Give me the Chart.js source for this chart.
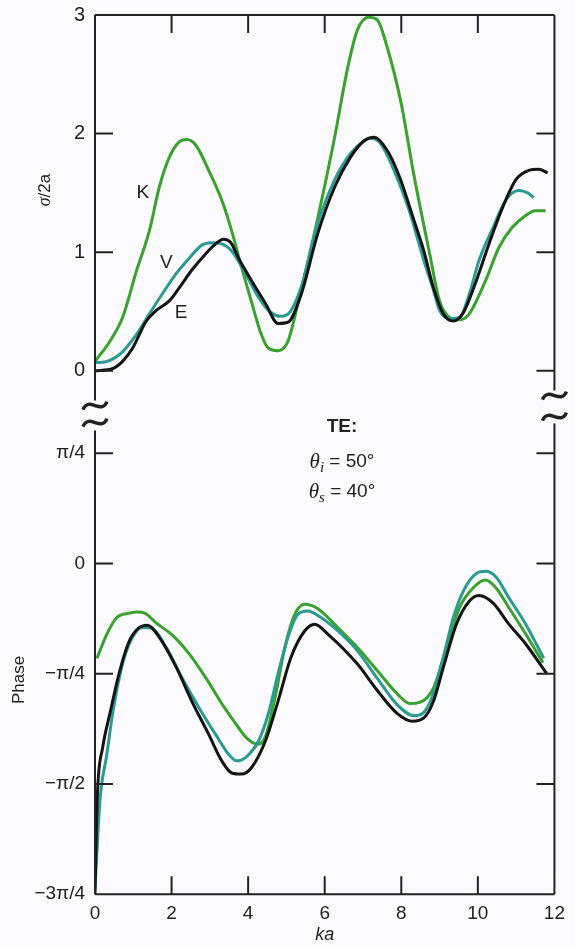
<!DOCTYPE html>
<html>
<head>
<meta charset="utf-8">
<script src="https://cdn.jsdelivr.net/npm/chart.js@4.4.0/dist/chart.umd.min.js"></script>
<style>
  html, body { margin: 0; background: #fbfbfe; }
  #wrap { width: 575px; height: 947px; }
</style>
</head>
<body>
<div id="wrap"><canvas id="scatterChart"></canvas></div>
<script>
// σ/2a vs ka
const kaSigmaK = [0, 0.39, 0.72, 1.09, 1.42, 1.68, 1.94, 2.2, 2.4, 2.64, 2.97, 3.31, 3.57, 3.83, 4.08, 4.34, 4.53, 4.78, 5.04, 5.38, 5.82, 6.26, 6.59, 6.85, 7.15, 7.37, 7.63, 8.0, 8.33, 8.74, 9.0, 9.26, 9.5, 9.75, 10.2, 10.55, 10.9, 11.25, 11.5, 11.77];
const sigmaK = [0.08, 0.25, 0.45, 0.85, 1.18, 1.55, 1.80, 1.93, 1.95, 1.90, 1.69, 1.44, 1.18, 0.87, 0.59, 0.31, 0.19, 0.17, 0.25, 0.68, 1.29, 1.97, 2.54, 2.87, 2.98, 2.96, 2.73, 2.25, 1.65, 0.99, 0.59, 0.45, 0.43, 0.47, 0.76, 1.04, 1.21, 1.31, 1.35, 1.35];
const kaSigmaV = [0, 0.13, 0.65, 1.09, 1.42, 1.76, 2.12, 2.46, 2.79, 3.05, 3.31, 3.57, 3.93, 4.27, 4.6, 4.86, 5.1, 5.38, 5.82, 6.26, 6.67, 7.03, 7.19, 7.45, 7.81, 8.2, 8.59, 8.84, 9.0, 9.26, 9.52, 9.78, 10.03, 10.4, 10.73, 11.07, 11.3, 11.46];
const sigmaV = [0.07, 0.07, 0.14, 0.31, 0.48, 0.65, 0.82, 0.95, 1.06, 1.08, 1.07, 1.01, 0.82, 0.62, 0.49, 0.46, 0.50, 0.70, 1.24, 1.61, 1.83, 1.94, 1.96, 1.92, 1.69, 1.36, 0.93, 0.68, 0.51, 0.44, 0.45, 0.65, 0.93, 1.21, 1.44, 1.52, 1.50, 1.46];
const kaSigmaE = [0, 0.47, 0.72, 0.98, 1.34, 1.6, 1.94, 2.2, 2.53, 2.9, 3.15, 3.35, 3.55, 3.75, 4.09, 4.45, 4.78, 5.04, 5.38, 5.82, 6.26, 6.67, 7.03, 7.29, 7.63, 7.96, 8.3, 8.59, 8.84, 9.1, 9.36, 9.62, 9.96, 10.29, 10.65, 10.99, 11.33, 11.59, 11.82];
const sigmaE = [0.0, 0.02, 0.08, 0.19, 0.42, 0.51, 0.59, 0.70, 0.85, 0.99, 1.07, 1.11, 1.08, 0.95, 0.76, 0.57, 0.40, 0.41, 0.64, 1.16, 1.55, 1.80, 1.94, 1.97, 1.86, 1.63, 1.30, 1.01, 0.70, 0.48, 0.42, 0.49, 0.76, 1.07, 1.38, 1.61, 1.69, 1.70, 1.67];

// phase vs ka, in multiples of π/4
const kaPhaseK = [0.05, 0.31, 0.57, 0.9, 1.1, 1.3, 1.6, 2.02, 2.46, 2.9, 3.31, 3.67, 3.95, 4.25, 4.45, 4.7, 4.96, 5.22, 5.48, 5.82, 6.34, 6.85, 7.37, 7.89, 8.22, 8.48, 8.84, 9.18, 9.52, 9.88, 10.2, 10.47, 10.81, 11.25, 11.7];
const phaseK = [-0.86, -0.64, -0.49, -0.45, -0.44, -0.45, -0.54, -0.65, -0.82, -1.04, -1.27, -1.45, -1.58, -1.64, -1.57, -1.22, -0.76, -0.46, -0.37, -0.41, -0.58, -0.76, -0.97, -1.18, -1.27, -1.26, -1.13, -0.76, -0.40, -0.22, -0.15, -0.22, -0.40, -0.64, -0.90];
const kaPhaseV = [0, 0.13, 0.31, 0.47, 0.72, 0.98, 1.24, 1.5, 1.86, 2.28, 2.72, 3.15, 3.49, 3.7, 3.93, 4.27, 4.53, 4.78, 5.04, 5.3, 5.56, 5.9, 6.34, 6.85, 7.37, 7.89, 8.33, 8.59, 8.84, 9.1, 9.36, 9.62, 9.96, 10.2, 10.47, 10.81, 11.25, 11.72];
const phaseV = [-2.95, -2.15, -1.73, -1.34, -0.91, -0.67, -0.58, -0.59, -0.76, -1.04, -1.31, -1.55, -1.73, -1.79, -1.76, -1.61, -1.36, -1.0, -0.67, -0.46, -0.43, -0.49, -0.61, -0.79, -1.04, -1.28, -1.38, -1.35, -1.18, -0.85, -0.49, -0.25, -0.09, -0.07, -0.12, -0.31, -0.55, -0.86];
const kaPhaseE = [0, 0.03, 0.07, 0.2, 0.39, 0.65, 0.9, 1.16, 1.37, 1.68, 2.12, 2.53, 2.97, 3.31, 3.57, 3.83, 4.09, 4.45, 4.78, 5.12, 5.48, 5.74, 6.08, 6.85, 7.37, 7.89, 8.28, 8.59, 8.84, 9.1, 9.44, 9.78, 10.03, 10.4, 10.81, 11.25, 11.8];
const phaseE = [-3.0, -2.5, -2.04, -1.67, -1.36, -0.97, -0.70, -0.58, -0.56, -0.67, -0.94, -1.25, -1.55, -1.79, -1.90, -1.91, -1.85, -1.61, -1.25, -0.85, -0.61, -0.55, -0.64, -0.91, -1.15, -1.36, -1.43, -1.40, -1.25, -0.94, -0.55, -0.34, -0.29, -0.36, -0.55, -0.73, -1.0];

// ticks
const sigmaTicks = [0, 1, 2, 3];
const phaseTicks = [-3, -2, -1, 0, 1];
const phaseTickLabels = ['−3π/4', '−π/2', '−π/4', '0', 'π/4'];
const kaInnerTicks = [2, 4, 6, 8, 10];

const GREEN = '#38a22c';
const TEAL = '#2b9a92';
const BLACK = '#141414';
const INK = '#222';
const FONT = '"Liberation Sans", Arial, sans-serif';

const pts = (xs, ys) => xs.map((x, i) => ({ x: x, y: ys[i] }));

function line(data, color, axis) {
    return {
        data: data,
        yAxisID: axis,
        borderColor: color,
        borderWidth: 3,
        pointRadius: 0,
        fill: false,
        cubicInterpolationMode: 'monotone'
    };
}

// draws text made of pieces with different fonts, centred on cx
function pieces(ctx, parts, cx, cy) {
    let w = 0;
    parts.forEach(p => { ctx.font = p.font; w += ctx.measureText(p.t).width; });
    let x = cx - w / 2;
    ctx.textAlign = 'left';
    ctx.textBaseline = 'middle';
    parts.forEach(p => {
        ctx.font = p.font;
        ctx.fillText(p.t, x, cy + (p.dy || 0));
        x += ctx.measureText(p.t).width;
    });
}

function tilde(ctx, x, y) {
    ctx.moveTo(x - 12, y + 4);
    ctx.bezierCurveTo(x - 6, y - 10, x + 6, y + 10, x + 12, y - 4);
}

const framePlugin = {
    id: 'frame',
    afterDraw(chart) {
        const { ctx, chartArea: a, scales } = chart;
        const x = scales.x, yTop = scales.y, yBot = scales.y2;
        const brk = yTop.bottom;
        ctx.save();
        ctx.strokeStyle = INK;
        ctx.lineWidth = 2;
        ctx.beginPath();
        ctx.moveTo(a.left, a.top); ctx.lineTo(a.right, a.top);
        ctx.moveTo(a.left, a.bottom); ctx.lineTo(a.right, a.bottom);
        ctx.moveTo(a.left, a.top); ctx.lineTo(a.left, brk - 13);
        ctx.moveTo(a.left, brk + 17); ctx.lineTo(a.left, a.bottom);
        ctx.moveTo(a.right, a.top); ctx.lineTo(a.right, brk - 23);
        ctx.moveTo(a.right, brk + 10); ctx.lineTo(a.right, a.bottom);

        kaInnerTicks.forEach(v => {
            const px = x.getPixelForValue(v);
            ctx.moveTo(px, a.top); ctx.lineTo(px, a.top + 18);
            ctx.moveTo(px, a.bottom); ctx.lineTo(px, a.bottom - 18);
        });
        sigmaTicks.slice(0, 3).forEach(v => {
            const py = yTop.getPixelForValue(v);
            ctx.moveTo(a.left, py); ctx.lineTo(a.left + 18, py);
            ctx.moveTo(a.right, py); ctx.lineTo(a.right - 18, py);
        });
        phaseTicks.slice(1).forEach(v => {
            const py = yBot.getPixelForValue(v);
            ctx.moveTo(a.left, py); ctx.lineTo(a.left + 18, py);
            ctx.moveTo(a.right, py); ctx.lineTo(a.right - 18, py);
        });
        ctx.stroke();

        // axis breaks
        ctx.lineWidth = 3.5;
        ctx.beginPath();
        tilde(ctx, a.left, brk - 8);
        tilde(ctx, a.left, brk + 9);
        tilde(ctx, a.right, brk - 18);
        tilde(ctx, a.right, brk + 3);
        ctx.stroke();

        ctx.fillStyle = INK;
        ctx.textAlign = 'center';
        ctx.textBaseline = 'middle';
        ctx.font = '19px ' + FONT;
        ctx.fillText('K', x.getPixelForValue(1.25), yTop.getPixelForValue(1.5));
        ctx.fillText('V', x.getPixelForValue(1.86), yTop.getPixelForValue(0.91));
        ctx.fillText('E', x.getPixelForValue(2.25), yTop.getPixelForValue(0.49));

        ctx.font = 'bold 19px ' + FONT;
        ctx.fillText('TE:', 342, 427);
        const th = 'italic 21px "Liberation Serif", serif';
        const sub = 'italic 15px "Liberation Serif", serif';
        const eq = '19px ' + FONT;
        pieces(ctx, [{ t: 'θ', font: th }, { t: 'i', font: sub, dy: 6 }, { t: ' = 50°', font: eq }], 342, 462);
        pieces(ctx, [{ t: 'θ', font: th }, { t: 's', font: sub, dy: 6 }, { t: ' = 40°', font: eq }], 342, 492);

        // axis titles
        ctx.save();
        ctx.translate(45, 190);
        ctx.rotate(-Math.PI / 2);
        pieces(ctx, [{ t: 'σ', font: 'italic 18px "Liberation Serif", serif' }, { t: '/2a', font: '17px ' + FONT }], 0, 0);
        ctx.restore();
        ctx.save();
        ctx.translate(19, 680);
        ctx.rotate(-Math.PI / 2);
        ctx.font = '17px ' + FONT;
        ctx.textAlign = 'center';
        ctx.fillText('Phase', 0, 0);
        ctx.restore();

        ctx.restore();
    }
};

const fixWidth = s => { s.width = 95; };

new Chart(document.getElementById('scatterChart'), {
    type: 'line',
    data: {
        datasets: [
            line(pts(kaSigmaE, sigmaE), BLACK, 'y'),
            line(pts(kaSigmaV, sigmaV), TEAL, 'y'),
            line(pts(kaSigmaK, sigmaK), GREEN, 'y'),
            line(pts(kaPhaseE, phaseE), BLACK, 'y2'),
            line(pts(kaPhaseV, phaseV), TEAL, 'y2'),
            line(pts(kaPhaseK, phaseK), GREEN, 'y2')
        ]
    },
    options: {
        responsive: true,
        maintainAspectRatio: false,
        animation: false,
        layout: { padding: { left: 0, right: 16, top: 15, bottom: 2 } },
        plugins: { legend: { display: false }, tooltip: { enabled: false } },
        scales: {
            x: {
                type: 'linear', min: 0, max: 12,
                grid: { display: false, drawTicks: false },
                border: { display: false },
                ticks: { stepSize: 2, padding: 10, color: INK, font: { family: FONT, size: 19, lineHeight: 1.05 } },
                title: { display: true, text: 'ka', color: INK, padding: { top: -9, bottom: 0 }, font: { family: FONT, size: 18, style: 'italic', lineHeight: 1.1 } }
            },
            // phase panel (declared first so it is stacked below)
            y2: {
                type: 'linear', position: 'left', stack: 'panels', stackWeight: 480,
                min: -3, max: 1.36,
                afterBuildTicks: s => { s.ticks = phaseTicks.map(v => ({ value: v })); },
                afterFit: fixWidth,
                grid: { display: false, drawTicks: false },
                border: { display: false },
                ticks: {
                    padding: 10, color: INK, font: { family: FONT, size: 19, lineHeight: 0.5 },
                    callback: v => phaseTickLabels[phaseTicks.indexOf(v)]
                }
            },
            y: {
                type: 'linear', position: 'left', stack: 'panels', stackWeight: 398,
                min: -0.36, max: 3,
                afterBuildTicks: s => { s.ticks = sigmaTicks.map(v => ({ value: v })); },
                afterFit: fixWidth,
                grid: { display: false, drawTicks: false },
                border: { display: false },
                ticks: { padding: 10, color: INK, font: { family: FONT, size: 20, lineHeight: 0.5 } }
            }
        }
    },
    plugins: [framePlugin]
});
</script>
</body>
</html>
